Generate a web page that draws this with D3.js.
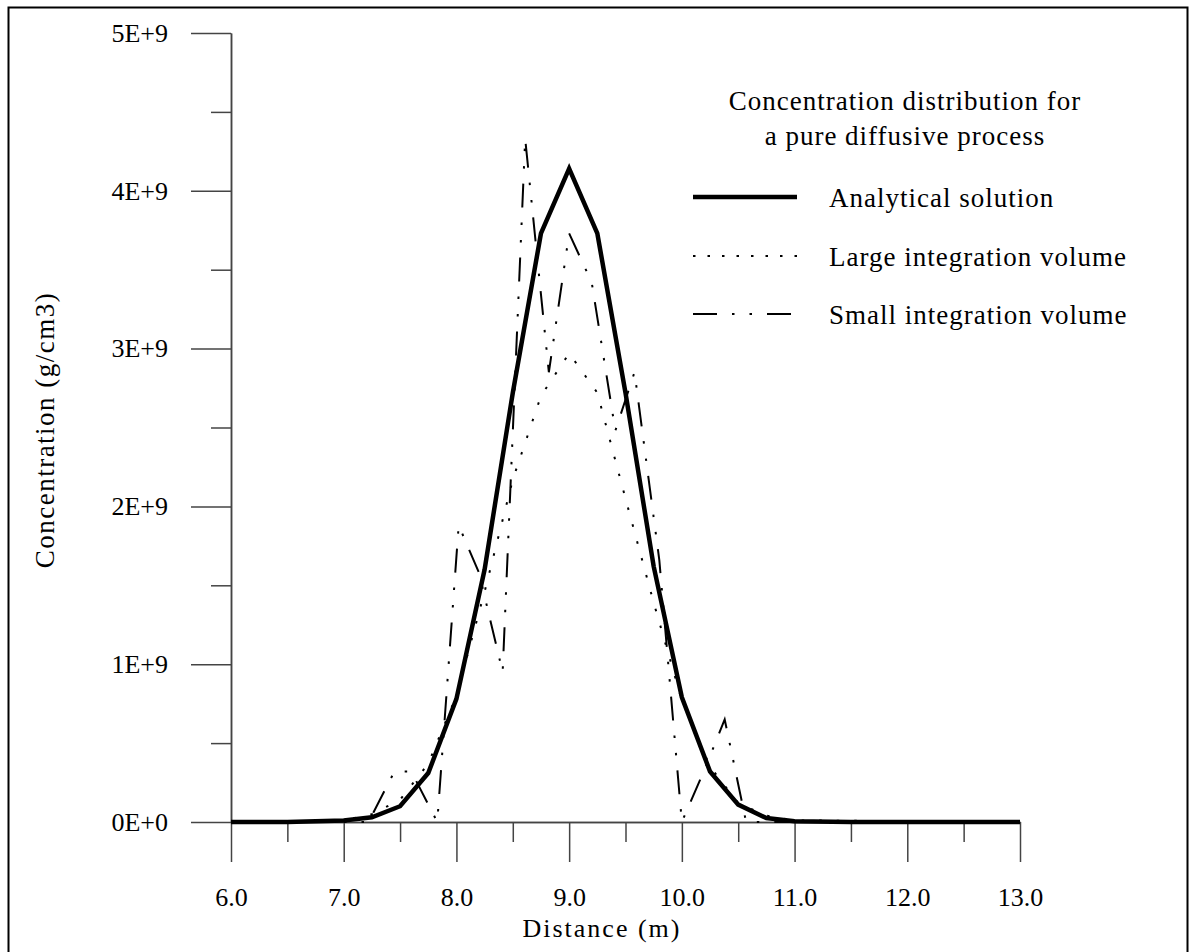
<html>
<head>
<meta charset="utf-8">
<title>Concentration distribution</title>
<script src="https://d3js.org/d3.v7.min.js"></script>
<style>
  body { margin: 0; background: #fff; }
  text { font-family: "Liberation Serif", "Times New Roman", serif; fill: #000; }
</style>
</head>
<body>
<div id="chart"></div>
<script>
  // distance (m) and concentration (E+9 g/cm3)
  let anaX = [6.0, 6.5, 7.0, 7.25, 7.5, 7.75, 8.0, 8.25, 8.5, 8.75, 9.0, 9.25, 9.5, 9.75, 10.0, 10.25, 10.5, 10.75, 11.0, 11.5, 13.0];
  let anaY = [0, 0, 0.01, 0.03, 0.10, 0.31, 0.78, 1.60, 2.72, 3.73, 4.14, 3.73, 2.72, 1.62, 0.79, 0.32, 0.11, 0.025, 0.005, 0, 0];

  let largeX = [6.0, 7.0, 7.25, 7.5, 7.75, 8.0, 8.25, 8.5, 8.75, 9.0, 9.25, 9.5, 9.75, 10.0, 10.25, 10.5, 10.75, 11.0, 13.0];
  let largeY = [0, 0.01, 0.05, 0.14, 0.37, 0.80, 1.46, 2.17, 2.70, 2.97, 2.72, 2.05, 1.39, 0.77, 0.35, 0.12, 0.04, 0.01, 0];

  let smallX = [6.0, 7.22, 7.45, 7.6, 7.83, 8.02, 8.2, 8.41, 8.61, 8.82, 9.0, 9.2, 9.41, 9.58, 9.8, 10.0, 10.2, 10.38, 10.57, 13.0];
  let smallY = [0, 0, 0.32, 0.32, 0, 1.88, 1.58, 0.95, 4.33, 2.85, 3.73, 3.42, 2.48, 2.85, 1.66, 0, 0.33, 0.65, 0, 0];

  let xMajor = [6, 7, 8, 9, 10, 11, 12, 13];
  let xMinor = [6.5, 7.5, 8.5, 9.5, 10.5, 11.5, 12.5];
  let yMajor = [0, 1e9, 2e9, 3e9, 4e9, 5e9];
  let yMinor = [0.5e9, 1.5e9, 2.5e9, 3.5e9, 4.5e9];
  let yLabels = ["0E+0", "1E+9", "2E+9", "3E+9", "4E+9", "5E+9"];

  let titleLines = ["Concentration distribution for", "a pure diffusive process"];
  let seriesNames = ["Analytical solution", "Large integration volume", "Small integration volume"];

  let width = 1196;
  let height = 952;

  let svg = d3.select("#chart").append("svg")
    .attr("width", width)
    .attr("height", height);

  svg.append("rect")
    .attr("width", width)
    .attr("height", height)
    .style("fill", "white");

  // outer frame (bottom edge runs off the picture)
  svg.append("rect")
    .attr("x", 8.5).attr("y", 7.5)
    .attr("width", 1179).attr("height", 1000)
    .style("fill", "none")
    .style("stroke", "#000")
    .style("stroke-width", 2);

  let x = d3.scaleLinear().domain([6, 13]).range([231, 1020]);
  let y = d3.scaleLinear().domain([0, 5e9]).range([822, 33]);

  function styleAxis(g) {
    g.selectAll("path, line").style("stroke", "#444").style("stroke-width", 1.5);
    g.selectAll("text").style("font-size", "26px").style("font-family", "Liberation Serif");
  }

  // y axis
  svg.append("g")
    .attr("transform", "translate(231,0)")
    .call(d3.axisLeft(y).tickValues(yMajor).tickSize(40).tickSizeOuter(0).tickPadding(23)
      .tickFormat((d, i) => yLabels[i]))
    .call(styleAxis);
  svg.append("g")
    .attr("transform", "translate(231,0)")
    .call(d3.axisLeft(y).tickValues(yMinor).tickSize(20).tickSizeOuter(0).tickFormat(""))
    .call(styleAxis);

  // x axis
  svg.append("g")
    .attr("transform", "translate(0,822)")
    .call(d3.axisBottom(x).tickValues(xMajor).tickSize(40).tickSizeOuter(0).tickPadding(26)
      .tickFormat(d3.format(".1f")))
    .call(styleAxis);
  svg.append("g")
    .attr("transform", "translate(0,822)")
    .call(d3.axisBottom(x).tickValues(xMinor).tickSize(20).tickSizeOuter(0).tickFormat(""))
    .call(styleAxis);

  // axis titles
  svg.append("text")
    .attr("x", 602).attr("y", 937)
    .attr("text-anchor", "middle")
    .style("font-size", "26px")
    .style("letter-spacing", "2px")
    .text("Distance (m)");
  svg.append("text")
    .attr("transform", "translate(54,430) rotate(-90)")
    .attr("text-anchor", "middle")
    .style("font-size", "27px")
    .style("letter-spacing", "1.5px")
    .text("Concentration (g/cm3)");

  // curves
  let line = d3.line().x(d => x(d[0])).y(d => y(d[1] * 1e9));
  let styles = [
    { w: 4.5, dash: null },
    { w: 2, dash: "2.5,15" },
    { w: 2, dash: "24,15,2.5,15,2.5,15" }
  ];
  let series = [
    d3.zip(anaX, anaY),
    d3.zip(largeX, largeY),
    d3.zip(smallX, smallY)
  ];

  series.forEach(function(s, i) {
    svg.append("path")
      .datum(s)
      .attr("d", line)
      .style("fill", "none")
      .style("stroke", "#000")
      .style("stroke-width", styles[i].w)
      .style("stroke-linejoin", "miter")
      .style("stroke-dasharray", styles[i].dash);
  });

  // legend title
  svg.selectAll(".title")
    .data(titleLines)
    .enter()
    .append("text")
      .attr("x", 905)
      .attr("y", (d, i) => 110 + i * 35)
      .attr("text-anchor", "middle")
      .style("font-size", "27px")
      .style("letter-spacing", "1px")
      .text(d => d);

  let legendY = [197, 256, 314];
  let legend = svg.selectAll(".legend")
    .data(seriesNames)
    .enter()
    .append("g");
  legend.append("line")
    .attr("x1", 693).attr("x2", 797)
    .attr("y1", (d, i) => legendY[i]).attr("y2", (d, i) => legendY[i])
    .style("stroke", "#000")
    .style("stroke-width", (d, i) => styles[i].w)
    .style("stroke-dasharray", (d, i) => i == 1 ? "2.5,12" : styles[i].dash);
  legend.append("text")
    .attr("x", 829)
    .attr("y", (d, i) => legendY[i] + 10)
    .style("font-size", "27px")
    .style("letter-spacing", "1px")
    .text(d => d);
</script>
</body>
</html>
